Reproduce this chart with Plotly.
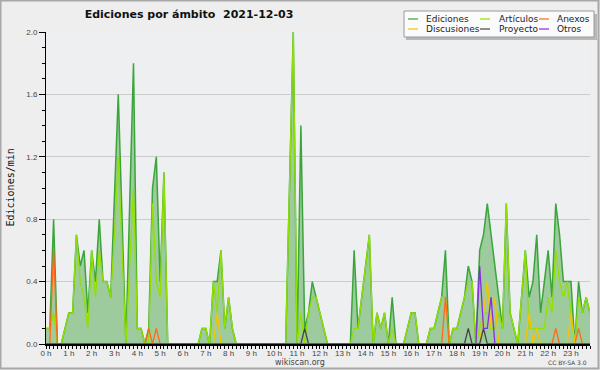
import plotly.graph_objects as go

# ---------------- data (10-minute bins, edits per minute) ----------------
hour_labels = ["0 h", "1 h", "2 h", "3 h", "4 h", "5 h", "6 h", "7 h", "8 h", "9 h",
               "10 h", "11 h", "12 h", "13 h", "14 h", "15 h", "16 h", "17 h", "18 h",
               "19 h", "20 h", "21 h", "22 h", "23 h"]

bin_minutes = list(range(0, 1440, 10))

ediciones = [
    0.1, 0.1, 0.8, 0.0, 0.0, 0.1,
    0.2, 0.2, 0.7, 0.5, 0.6, 0.2,
    0.6, 0.4, 0.8, 0.4, 0.4, 0.3,
    0.9, 1.6, 0.8, 0.0, 0.9, 1.8,
    0.1, 0.1, 0.0, 0.1, 1.0, 1.2,
    0.4, 1.1, 0.0, 0.0, 0.0, 0.0,
    0.0, 0.0, 0.0, 0.0, 0.0, 0.1,
    0.1, 0.0, 0.4, 0.4, 0.6, 0.1,
    0.3, 0.1, 0.0, 0.0, 0.0, 0.0,
    0.0, 0.0, 0.0, 0.0, 0.0, 0.0,
    0.0, 0.0, 0.0, 0.0, 1.0, 2.0,
    0.0, 1.4, 0.1, 0.2, 0.4, 0.3,
    0.2, 0.1, 0.0, 0.0, 0.0, 0.0,
    0.0, 0.0, 0.0, 0.6, 0.1, 0.3,
    0.5, 0.7, 0.0, 0.2, 0.1, 0.2,
    0.0, 0.3, 0.0, 0.0, 0.0, 0.1,
    0.2, 0.2, 0.0, 0.0, 0.0, 0.1,
    0.1, 0.2, 0.3, 0.6, 0.0, 0.1,
    0.1, 0.2, 0.3, 0.5, 0.4, 0.0,
    0.6, 0.7, 0.9, 0.7, 0.5, 0.3,
    0.1, 0.9, 0.2, 0.1, 0.0, 0.3,
    0.6, 0.3, 0.4, 0.7, 0.2, 0.4,
    0.6, 0.3, 0.9, 0.7, 0.4, 0.4,
    0.4, 0.0, 0.4, 0.2, 0.3, 0.2,
]

articulos = [
    0.1, 0.1, 0.2, 0.0, 0.0, 0.1,
    0.2, 0.2, 0.7, 0.4, 0.3, 0.1,
    0.6, 0.3, 0.6, 0.4, 0.4, 0.3,
    0.7, 1.2, 0.6, 0.0, 0.5, 1.0,
    0.1, 0.1, 0.0, 0.0, 0.9, 0.4,
    0.3, 1.1, 0.0, 0.0, 0.0, 0.0,
    0.0, 0.0, 0.0, 0.0, 0.0, 0.1,
    0.1, 0.0, 0.4, 0.2, 0.6, 0.1,
    0.3, 0.1, 0.0, 0.0, 0.0, 0.0,
    0.0, 0.0, 0.0, 0.0, 0.0, 0.0,
    0.0, 0.0, 0.0, 0.0, 1.0, 2.0,
    0.0, 0.2, 0.0, 0.2, 0.3, 0.3,
    0.2, 0.1, 0.0, 0.0, 0.0, 0.0,
    0.0, 0.0, 0.0, 0.1, 0.1, 0.3,
    0.5, 0.7, 0.0, 0.2, 0.1, 0.2,
    0.0, 0.1, 0.0, 0.0, 0.0, 0.1,
    0.2, 0.2, 0.0, 0.0, 0.0, 0.1,
    0.1, 0.2, 0.3, 0.3, 0.0, 0.1,
    0.1, 0.2, 0.3, 0.4, 0.4, 0.0,
    0.1, 0.2, 0.2, 0.1, 0.1, 0.2,
    0.1, 0.9, 0.2, 0.1, 0.0, 0.3,
    0.6, 0.1, 0.1, 0.1, 0.1, 0.1,
    0.3, 0.2, 0.6, 0.4, 0.3, 0.4,
    0.2, 0.0, 0.3, 0.2, 0.3, 0.2,
]

anexos = [
    0.0, 0.0, 0.6, 0.0, 0.0, 0.0,
    0.0, 0.0, 0.0, 0.0, 0.0, 0.0,
    0.0, 0.0, 0.0, 0.0, 0.0, 0.0,
    0.0, 0.0, 0.0, 0.0, 0.0, 0.0,
    0.0, 0.0, 0.0, 0.1, 0.0, 0.1,
    0.0, 0.0, 0.0, 0.0, 0.0, 0.0,
    0.0, 0.0, 0.0, 0.0, 0.0, 0.0,
    0.0, 0.0, 0.0, 0.0, 0.0, 0.0,
    0.0, 0.0, 0.0, 0.0, 0.0, 0.0,
    0.0, 0.0, 0.0, 0.0, 0.0, 0.0,
    0.0, 0.0, 0.0, 0.0, 0.0, 0.0,
    0.0, 0.0, 0.0, 0.0, 0.0, 0.0,
    0.0, 0.0, 0.0, 0.0, 0.0, 0.0,
    0.0, 0.0, 0.0, 0.0, 0.0, 0.0,
    0.0, 0.0, 0.0, 0.0, 0.0, 0.0,
    0.0, 0.0, 0.0, 0.0, 0.0, 0.0,
    0.0, 0.0, 0.0, 0.0, 0.0, 0.0,
    0.0, 0.0, 0.0, 0.3, 0.0, 0.0,
    0.0, 0.0, 0.0, 0.0, 0.0, 0.0,
    0.0, 0.0, 0.0, 0.0, 0.0, 0.0,
    0.0, 0.0, 0.0, 0.0, 0.0, 0.0,
    0.0, 0.0, 0.0, 0.0, 0.0, 0.0,
    0.0, 0.0, 0.1, 0.0, 0.0, 0.0,
    0.0, 0.0, 0.1, 0.0, 0.0, 0.0,
]

discusiones = [
    0.0, 0.0, 0.0, 0.0, 0.0, 0.0,
    0.0, 0.0, 0.0, 0.0, 0.0, 0.0,
    0.0, 0.0, 0.0, 0.0, 0.0, 0.0,
    0.0, 0.0, 0.0, 0.0, 0.0, 0.0,
    0.0, 0.0, 0.0, 0.0, 0.0, 0.0,
    0.0, 0.0, 0.0, 0.0, 0.0, 0.0,
    0.0, 0.0, 0.0, 0.0, 0.0, 0.0,
    0.0, 0.0, 0.0, 0.2, 0.0, 0.0,
    0.0, 0.0, 0.0, 0.0, 0.0, 0.0,
    0.0, 0.0, 0.0, 0.0, 0.0, 0.0,
    0.0, 0.0, 0.0, 0.0, 0.0, 0.0,
    0.0, 0.0, 0.0, 0.0, 0.0, 0.0,
    0.0, 0.0, 0.0, 0.0, 0.0, 0.0,
    0.0, 0.0, 0.0, 0.0, 0.0, 0.0,
    0.0, 0.0, 0.0, 0.0, 0.0, 0.0,
    0.0, 0.0, 0.0, 0.0, 0.0, 0.0,
    0.0, 0.0, 0.0, 0.0, 0.0, 0.0,
    0.0, 0.0, 0.0, 0.0, 0.0, 0.0,
    0.0, 0.0, 0.0, 0.0, 0.0, 0.0,
    0.0, 0.2, 0.4, 0.1, 0.3, 0.0,
    0.0, 0.0, 0.0, 0.0, 0.0, 0.0,
    0.0, 0.2, 0.0, 0.1, 0.0, 0.0,
    0.0, 0.0, 0.0, 0.0, 0.0, 0.0,
    0.2, 0.0, 0.0, 0.0, 0.0, 0.0,
]

proyecto = [
    0.0, 0.0, 0.0, 0.0, 0.0, 0.0,
    0.0, 0.0, 0.0, 0.0, 0.0, 0.0,
    0.0, 0.0, 0.0, 0.0, 0.0, 0.0,
    0.0, 0.0, 0.0, 0.0, 0.0, 0.0,
    0.0, 0.0, 0.0, 0.0, 0.0, 0.0,
    0.0, 0.0, 0.0, 0.0, 0.0, 0.0,
    0.0, 0.0, 0.0, 0.0, 0.0, 0.0,
    0.0, 0.0, 0.0, 0.0, 0.0, 0.0,
    0.0, 0.0, 0.0, 0.0, 0.0, 0.0,
    0.0, 0.0, 0.0, 0.0, 0.0, 0.0,
    0.0, 0.0, 0.0, 0.0, 0.0, 0.0,
    0.0, 0.0, 0.1, 0.0, 0.0, 0.0,
    0.0, 0.0, 0.0, 0.0, 0.0, 0.0,
    0.0, 0.0, 0.0, 0.0, 0.0, 0.0,
    0.0, 0.0, 0.0, 0.0, 0.0, 0.0,
    0.0, 0.0, 0.0, 0.0, 0.0, 0.0,
    0.0, 0.0, 0.0, 0.0, 0.0, 0.0,
    0.0, 0.0, 0.0, 0.0, 0.0, 0.0,
    0.0, 0.0, 0.0, 0.1, 0.0, 0.0,
    0.0, 0.1, 0.0, 0.0, 0.0, 0.0,
    0.0, 0.0, 0.0, 0.0, 0.0, 0.0,
    0.0, 0.0, 0.0, 0.0, 0.0, 0.0,
    0.0, 0.0, 0.0, 0.0, 0.0, 0.0,
    0.0, 0.0, 0.0, 0.0, 0.0, 0.0,
]

otros = [
    0.0, 0.0, 0.0, 0.0, 0.0, 0.0,
    0.0, 0.0, 0.0, 0.0, 0.0, 0.0,
    0.0, 0.0, 0.0, 0.0, 0.0, 0.0,
    0.0, 0.0, 0.0, 0.0, 0.0, 0.0,
    0.0, 0.0, 0.0, 0.0, 0.0, 0.0,
    0.0, 0.0, 0.0, 0.0, 0.0, 0.0,
    0.0, 0.0, 0.0, 0.0, 0.0, 0.0,
    0.0, 0.0, 0.0, 0.0, 0.0, 0.0,
    0.0, 0.0, 0.0, 0.0, 0.0, 0.0,
    0.0, 0.0, 0.0, 0.0, 0.0, 0.0,
    0.0, 0.0, 0.0, 0.0, 0.0, 0.0,
    0.0, 0.0, 0.0, 0.0, 0.0, 0.0,
    0.0, 0.0, 0.0, 0.0, 0.0, 0.0,
    0.0, 0.0, 0.0, 0.0, 0.0, 0.0,
    0.0, 0.0, 0.0, 0.0, 0.0, 0.0,
    0.0, 0.0, 0.0, 0.0, 0.0, 0.0,
    0.0, 0.0, 0.0, 0.0, 0.0, 0.0,
    0.0, 0.0, 0.0, 0.0, 0.0, 0.0,
    0.0, 0.0, 0.0, 0.0, 0.0, 0.0,
    0.5, 0.1, 0.1, 0.3, 0.0, 0.0,
    0.0, 0.0, 0.0, 0.0, 0.0, 0.0,
    0.0, 0.0, 0.0, 0.0, 0.0, 0.0,
    0.0, 0.0, 0.0, 0.0, 0.0, 0.0,
    0.0, 0.0, 0.0, 0.0, 0.0, 0.0,
]

series_names = ["Ediciones", "Artículos", "Anexos", "Discusiones", "Proyecto", "Otros"]
series_colors = ["#3AA53A", "#92E000", "#FF6A1A", "#F5C400", "#454545", "#8A2BE2"]
fill_color = "#9ECB9E"

# ---------------- geometry helpers (pixel -> paper) ----------------
W, H = 600, 370
ML, MR, MT, MB = 46, 10, 32, 26
PW, PH = W - ML - MR, H - MT - MB


def px(x):
    return (x - ML) / PW


def py(y):
    return (H - MB - y) / PH


x_hours = [m / 60 for m in bin_minutes]

fig = go.Figure()
fig.add_trace(go.Scatter(x=x_hours, y=ediciones, mode="lines", fill="tozeroy",
                         fillcolor=fill_color, line=dict(color=series_colors[0], width=1.5),
                         name=series_names[0], hoverinfo="skip"))
all_series = [articulos, anexos, discusiones, proyecto, otros]
for name, color, vals in zip(series_names[1:], series_colors[1:], all_series):
    fig.add_trace(go.Scatter(x=x_hours, y=vals, mode="lines", name=name,
                             line=dict(color=color, width=1.3), hoverinfo="skip"))

tick_font = dict(family="Liberation Sans, Arial, sans-serif", size=8, color="#444444")

fig.update_layout(
    width=W, height=H,
    margin=dict(l=ML, r=MR, t=MT, b=MB, pad=0),
    paper_bgcolor="#EEEEEE",
    plot_bgcolor="#EEEFF1",
    showlegend=False,
    title=dict(text="<b>Ediciones por ámbito  2021-12-03</b>",
               font=dict(family="DejaVu Sans", size=11, color="#111111"),
               x=189 / W, xref="container", xanchor="center",
               y=1 - 14 / H, yref="container", yanchor="middle"),
    xaxis=dict(range=[0, x_hours[-1]], tickmode="array", tickvals=list(range(24)),
               ticktext=hour_labels, ticks="outside", ticklen=3, tickcolor="black",
               tickwidth=1, showline=True, linecolor="black", linewidth=2,
               showgrid=False, zeroline=False, tickfont=tick_font,
               ticklabelstandoff=-3,
               minor=dict(tickmode="array", tickvals=x_hours, ticks="outside",
                          ticklen=3, tickcolor="black", tickwidth=1, showgrid=False)),
    yaxis=dict(range=[0, 2.0], tick0=0, dtick=0.4, tickformat=".1f",
               ticks="outside", ticklen=6, tickcolor="black", tickwidth=1,
               showline=True, linecolor="black", linewidth=1,
               showgrid=True, gridcolor="#CCCCCC", gridwidth=1, zeroline=False,
               tickfont=tick_font,
               minor=dict(dtick=0.1, tick0=0, ticks="outside", ticklen=3,
                          tickcolor="black", tickwidth=1, showgrid=False)),
)

shapes = []
annotations = []

# outer frame
shapes.append(dict(type="rect", xref="paper", yref="paper",
                   x0=px(0.5), x1=px(598.5), y0=py(0.5), y1=py(368.5),
                   line=dict(color="#A8A8A8", width=2), fillcolor="rgba(0,0,0,0)", layer="above"))

# legend box with shadow
shapes.append(dict(type="rect", xref="paper", yref="paper",
                   x0=px(406), x1=px(597), y0=py(14), y1=py(40),
                   line=dict(width=0), fillcolor="#B8B8B8"))
shapes.append(dict(type="rect", xref="paper", yref="paper",
                   x0=px(404), x1=px(594), y0=py(11), y1=py(37),
                   line=dict(color="#9A9A9A", width=1), fillcolor="#FBFBFB"))

legend_cols = [(408, 424), (480, 497), (539, 555)]
legend_rows = [19, 29]
for k, (name, color) in enumerate(zip(series_names, series_colors)):
    col = k % 3
    row = k // 3
    sx, tx = legend_cols[col]
    yy = legend_rows[row]
    shapes.append(dict(type="line", xref="paper", yref="paper",
                       x0=px(sx), x1=px(sx + 10), y0=py(yy), y1=py(yy),
                       line=dict(color=color, width=1.2)))
    annotations.append(dict(text=name, xref="paper", yref="paper", x=px(tx), y=py(yy),
                            xanchor="left", yanchor="middle", showarrow=False,
                            font=dict(family="DejaVu Sans", size=9, color="#222222")))

# y-axis title
annotations.append(dict(text="Ediciones/min", xref="paper", yref="paper",
                        x=px(9.5), y=0.5, textangle=-90, showarrow=False,
                        xanchor="center", yanchor="middle",
                        font=dict(family="DejaVu Sans Mono", size=10, color="#111111")))
# footer texts
annotations.append(dict(text="wikiscan.org", xref="paper", yref="paper",
                        x=px(300), y=py(362), showarrow=False,
                        xanchor="center", yanchor="middle",
                        font=dict(family="DejaVu Sans", size=8, color="#444444")))
annotations.append(dict(text="CC BY-SA 3.0", xref="paper", yref="paper",
                        x=px(589), y=py(362.5), showarrow=False,
                        xanchor="right", yanchor="middle",
                        font=dict(family="DejaVu Sans", size=6, color="#444444")))

fig.update_layout(shapes=shapes, annotations=annotations)

fig.write_html("out.html", config={"displayModeBar": False, "staticPlot": True},
               post_script="document.body.style.margin='0';document.body.style.overflow='hidden';")
